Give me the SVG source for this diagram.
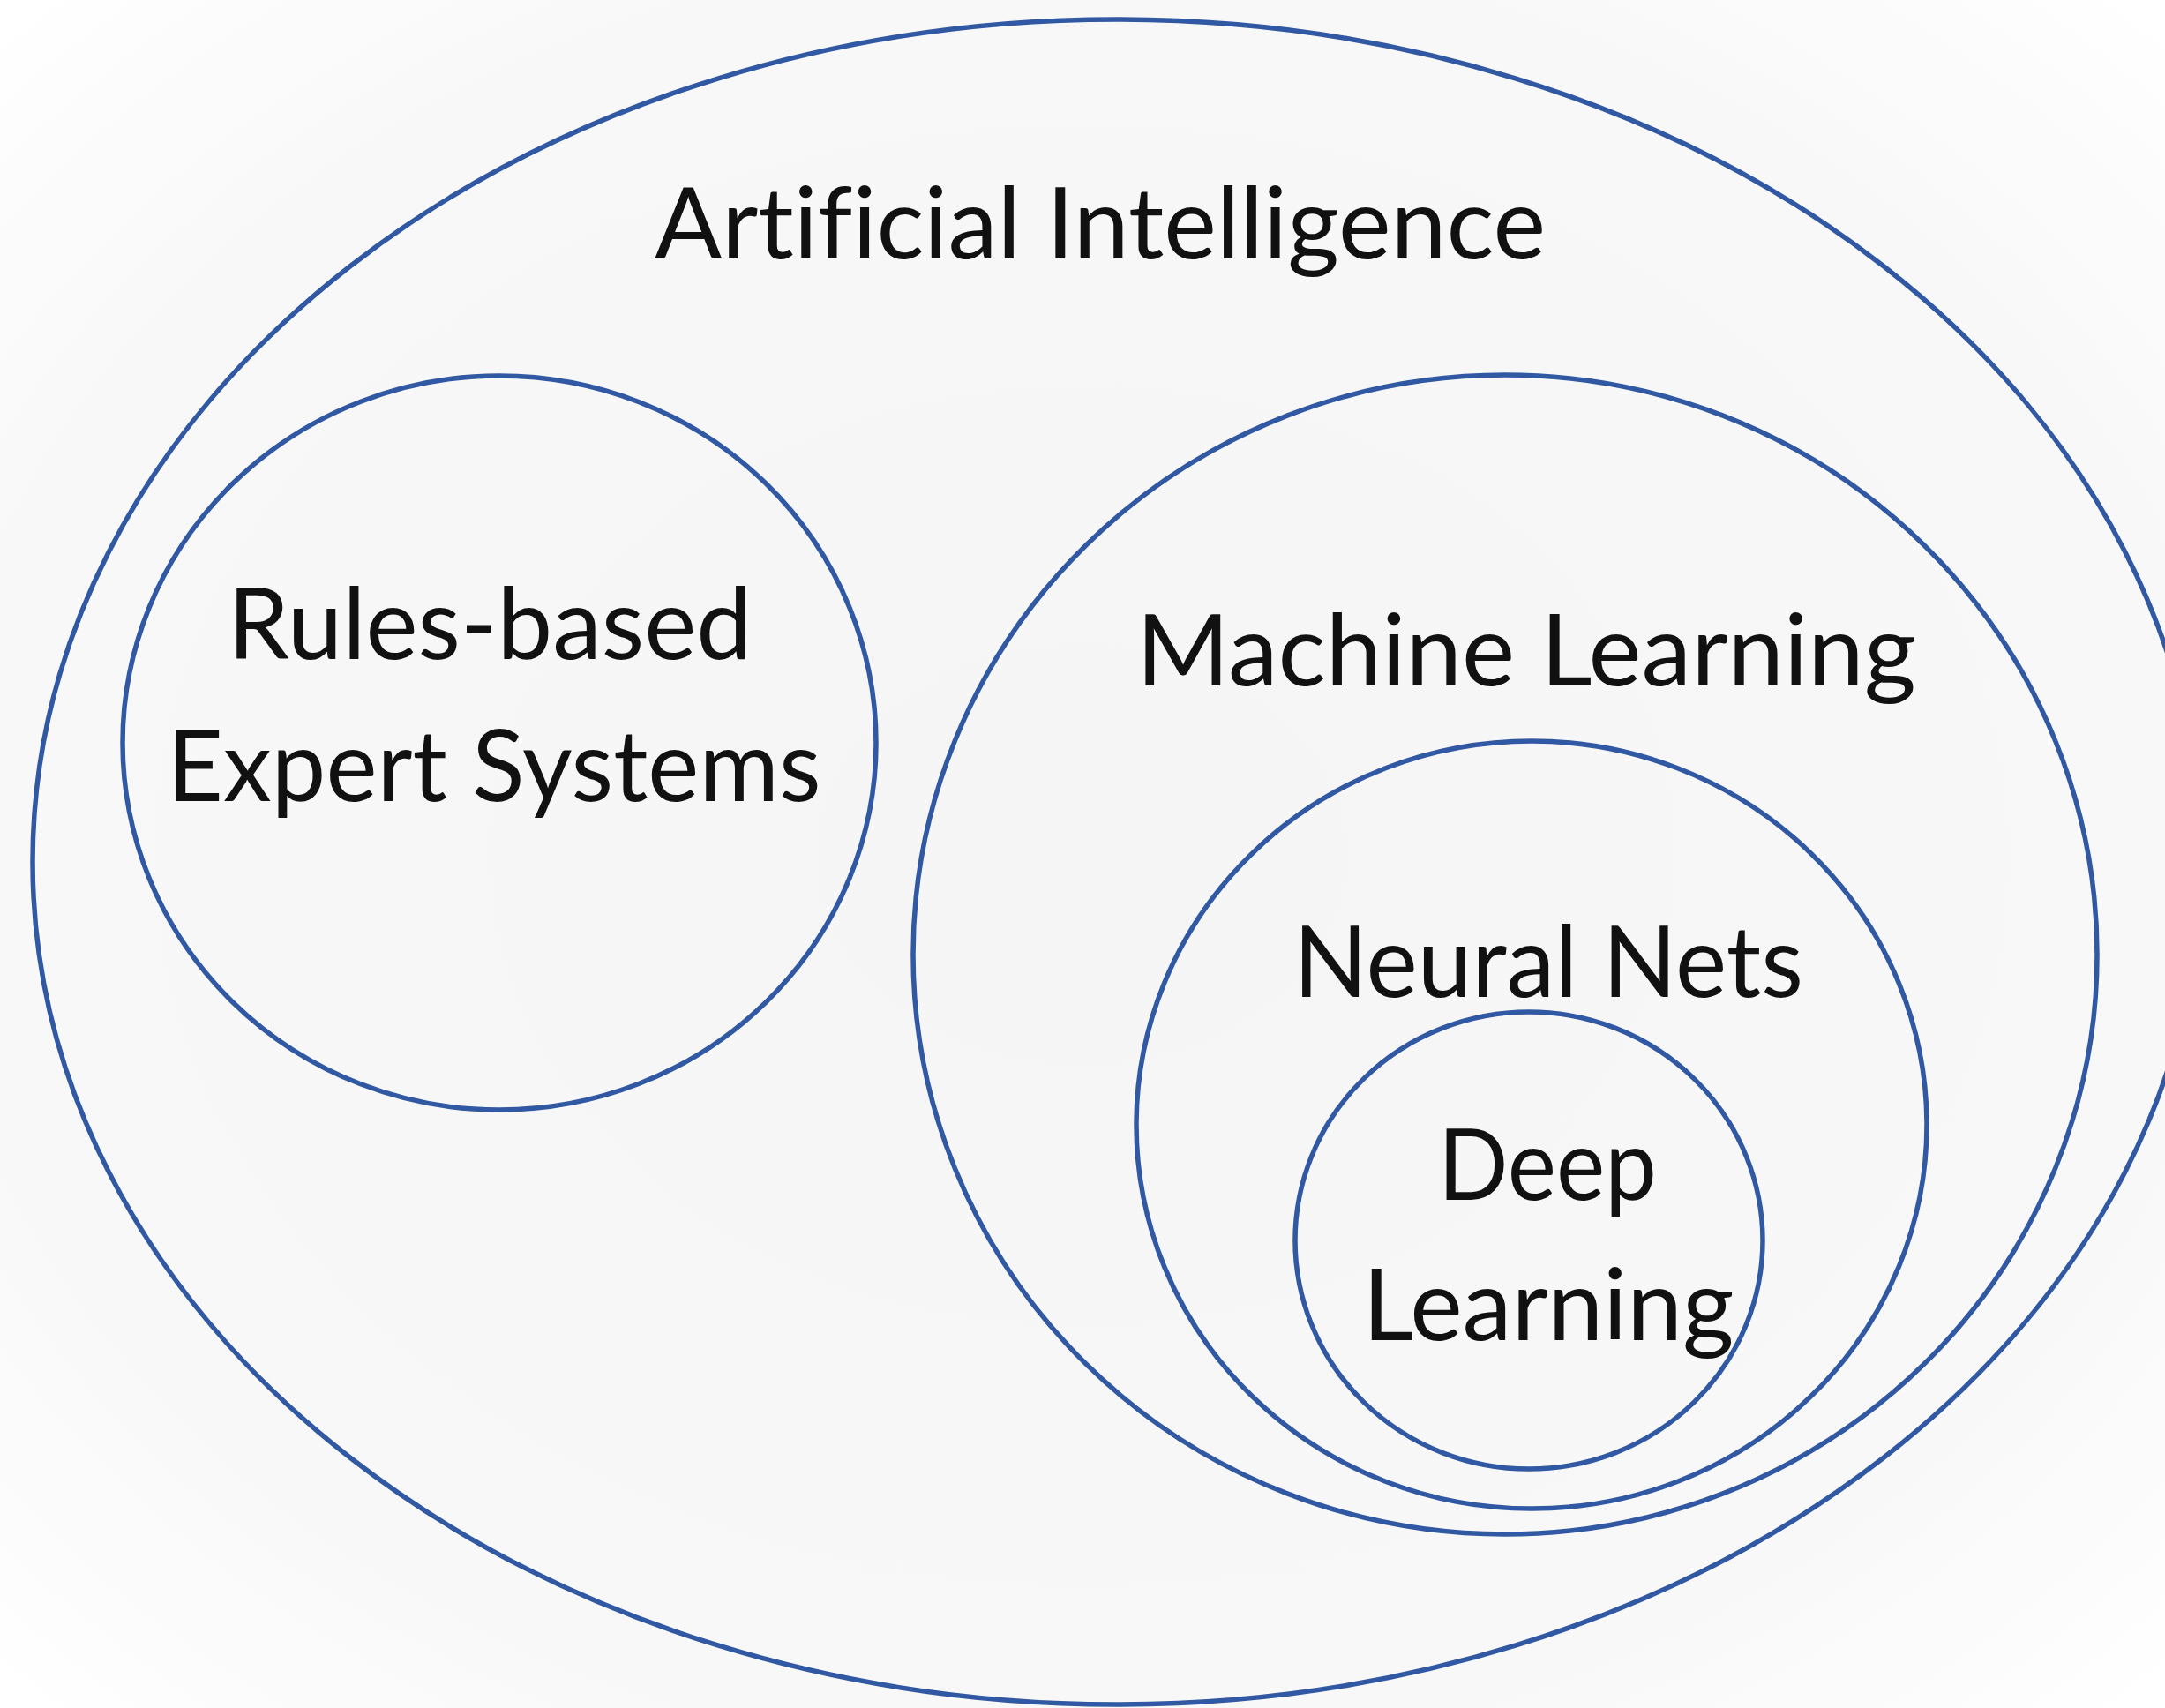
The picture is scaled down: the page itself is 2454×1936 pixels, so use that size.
<svg xmlns="http://www.w3.org/2000/svg" width="2454" height="1936" viewBox="0 0 2454 1936">
<defs>
<style>
.ring{fill:none;stroke:#3158a2;stroke-width:5.5}
.lbl{font-family:Lato,"Open Sans","Liberation Sans",sans-serif;font-size:112px;fill:#111;text-anchor:middle;font-variant-ligatures:none;font-feature-settings:"liga" 0,"clig" 0}
</style>
<radialGradient id="bg" cx="0.5" cy="0.5" r="0.7">
<stop offset="0" stop-color="#f5f5f5"/>
<stop offset="0.75" stop-color="#f8f8f8"/>
<stop offset="1" stop-color="#ffffff"/>
</radialGradient>
</defs>
<rect x="0" y="0" width="2454" height="1936" fill="url(#bg)"/>
<g id="ai">
<ellipse class="ring" cx="1266" cy="977" rx="1229" ry="955"/>
<text class="lbl" x="1247" y="293" textLength="1010" lengthAdjust="spacingAndGlyphs">Artificial Intelligence</text>
</g>
<g id="rules">
<ellipse class="ring" cx="566" cy="842" rx="427" ry="416"/>
<text class="lbl" x="555" y="747" textLength="594" lengthAdjust="spacingAndGlyphs">Rules-based</text>
<text class="lbl" x="560" y="908" textLength="741" lengthAdjust="spacingAndGlyphs">Expert Systems</text>
</g>
<g id="ml">
<ellipse class="ring" cx="1706" cy="1082" rx="671" ry="657"/>
<text class="lbl" x="1730" y="777" textLength="884" lengthAdjust="spacingAndGlyphs">Machine Learning</text>
</g>
<g id="nn">
<ellipse class="ring" cx="1736" cy="1275" rx="448" ry="435"/>
<text class="lbl" x="1755" y="1130" textLength="578" lengthAdjust="spacingAndGlyphs">Neural Nets</text>
</g>
<g id="dl">
<ellipse class="ring" cx="1733" cy="1406" rx="265" ry="259"/>
<text class="lbl" x="1754" y="1360" textLength="248" lengthAdjust="spacingAndGlyphs">Deep</text>
<text class="lbl" x="1755" y="1519" textLength="421" lengthAdjust="spacingAndGlyphs">Learning</text>
</g>
<g id="connectors"></g>
</svg>
